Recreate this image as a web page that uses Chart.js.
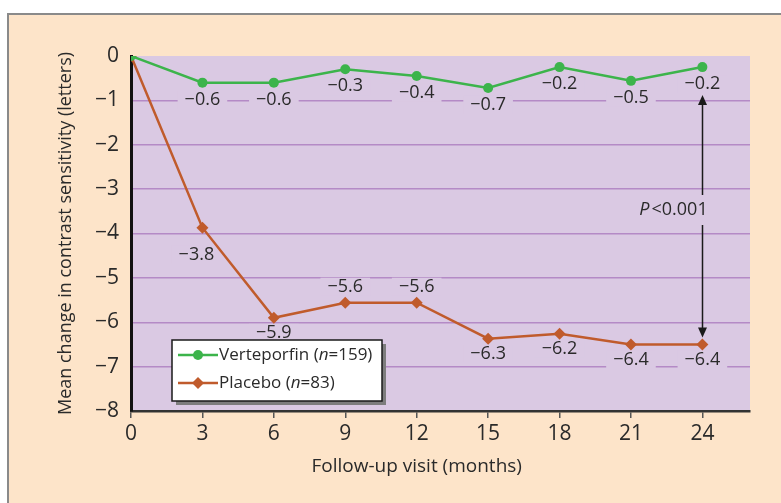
<!DOCTYPE html>
<html>
<head>
<meta charset="utf-8">
<script src="https://cdn.jsdelivr.net/npm/chart.js@4"></script>
<style>
  html, body { margin: 0; padding: 0; background: #ffffff; }
  #wrap { width: 781px; height: 503px; }
</style>
</head>
<body>
<div id="wrap"><canvas id="grafica" width="781" height="503"></canvas></div>
<script>
// Datos
const meses = [0, 3, 6, 9, 12, 15, 18, 21, 24];
const verteporfin = [0, -0.6, -0.6, -0.3, -0.45, -0.72, -0.25, -0.56, -0.25];
const placebo = [0, -3.87, -5.9, -5.56, -5.56, -6.37, -6.26, -6.5, -6.5];
const etiquetasVerte = ["", "−0.6", "−0.6", "−0.3", "−0.4", "−0.7", "−0.2", "−0.5", "−0.2"];
const etiquetasPlacebo = ["", "−3.8", "−5.9", "−5.6", "−5.6", "−6.3", "−6.2", "−6.4", "−6.4"];
const ticksY = [0, -1, -2, -3, -4, -5, -6, -7, -8];

const FUENTE = "'Open Sans', sans-serif";
const COLOR_VERDE = "#3cb44b";
const COLOR_CAFE = "#c05b2c";
const FONDO_PLOT = "#dac9e3";
const FONDO_PANEL = "#fde4c9";
const TEXTO = "#2a2a2a";

// Fondo del panel y del area del grafico
const fondo = {
    id: "fondo",
    beforeDraw(chart) {
        const { ctx, chartArea: a } = chart;
        ctx.save();
        ctx.fillStyle = "#ffffff";
        ctx.fillRect(0, 0, chart.width, chart.height);
        ctx.fillStyle = FONDO_PANEL;
        ctx.fillRect(7, 13, chart.width - 7, chart.height - 13);
        ctx.strokeStyle = "#8a8a8a";
        ctx.lineWidth = 2;
        ctx.beginPath();
        ctx.moveTo(8, chart.height);
        ctx.lineTo(8, 14);
        ctx.lineTo(chart.width, 14);
        ctx.stroke();
        ctx.fillStyle = FONDO_PLOT;
        ctx.fillRect(a.left, a.top, a.right - a.left, a.bottom - a.top);
        ctx.restore();
    }
};

// Etiquetas de valores con fondo que tapa la rejilla
const etiquetas = {
    id: "etiquetas",
    beforeDatasetsDraw(chart) {
        const { ctx } = chart;
        const x = chart.scales.x, y = chart.scales.y;
        ctx.save();
        ctx.font = "18px " + FUENTE;
        ctx.textAlign = "center";
        ctx.textBaseline = "middle";
        const pintar = (texto, px, py) => {
            const w = ctx.measureText(texto).width;
            ctx.fillStyle = FONDO_PLOT;
            ctx.fillRect(px - w / 2 - 7, py - 9, w + 14, 18);
            ctx.fillStyle = TEXTO;
            ctx.fillText(texto, px, py);
        };
        meses.forEach((m, i) => {
            if (!etiquetasVerte[i]) return;
            pintar(etiquetasVerte[i], x.getPixelForValue(m), y.getPixelForValue(verteporfin[i]) + 17);
        });
        meses.forEach((m, i) => {
            if (!etiquetasPlacebo[i]) return;
            let px = x.getPixelForValue(m);
            let py = y.getPixelForValue(placebo[i]);
            if (i === 3 || i === 4) py -= 16;
            else if (i === 1) { px -= 6; py += 27; }
            else py += 15;
            pintar(etiquetasPlacebo[i], px, py);
        });
        ctx.restore();
    },
    afterDatasetsDraw(chart) {
        // Flecha de significancia
        const { ctx } = chart;
        const x = chart.scales.x, y = chart.scales.y;
        const ultimo = meses.length - 1;
        const px = Math.round(x.getPixelForValue(meses[ultimo])) + 0.5;
        const arriba = y.getPixelForValue(verteporfin[ultimo]) + 28;
        const abajo = y.getPixelForValue(placebo[ultimo]) - 7;
        const textoY = 210;
        ctx.save();
        ctx.strokeStyle = "#1a1a1a";
        ctx.fillStyle = "#1a1a1a";
        ctx.lineWidth = 1.5;
        ctx.beginPath();
        ctx.moveTo(px, arriba + 8);
        ctx.lineTo(px, textoY - 15);
        ctx.moveTo(px, textoY + 15);
        ctx.lineTo(px, abajo - 8);
        ctx.stroke();
        ctx.beginPath();
        ctx.moveTo(px, arriba);
        ctx.lineTo(px - 4.5, arriba + 10);
        ctx.lineTo(px + 4.5, arriba + 10);
        ctx.closePath();
        ctx.fill();
        ctx.beginPath();
        ctx.moveTo(px, abajo);
        ctx.lineTo(px - 4.5, abajo - 10);
        ctx.lineTo(px + 4.5, abajo - 10);
        ctx.closePath();
        ctx.fill();
        ctx.textBaseline = "middle";
        ctx.textAlign = "left";
        ctx.fillStyle = TEXTO;
        ctx.font = "18px " + FUENTE;
        const resto = "<0.001";
        const wResto = ctx.measureText(resto).width;
        ctx.font = "italic 18px " + FUENTE;
        const wP = ctx.measureText("P").width;
        const inicio = px - 29 - (wP + 2 + wResto) / 2;
        ctx.fillText("P", inicio, textoY);
        ctx.font = "18px " + FUENTE;
        ctx.fillText(resto, inicio + wP + 2, textoY);
        ctx.restore();
    }
};

// Leyenda con n en cursiva y titulos de los ejes
const leyenda = {
    id: "leyenda",
    afterDraw(chart) {
        const { ctx, chartArea: a } = chart;
        const x = chart.scales.x;
        ctx.save();
        const bx = 172, by = 340, bw = 210, bh = 61;
        ctx.fillStyle = "#7d7d7d";
        ctx.fillRect(bx + 4, by + 4, bw, bh);
        ctx.fillStyle = "#ffffff";
        ctx.fillRect(bx, by, bw, bh);
        ctx.strokeStyle = "#1a1a1a";
        ctx.lineWidth = 1.5;
        ctx.strokeRect(bx, by, bw, bh);
        const filas = [
            { color: COLOR_VERDE, forma: "circulo", nombre: "Verteporfin (", n: "159)" },
            { color: COLOR_CAFE, forma: "rombo", nombre: "Placebo (", n: "83)" }
        ];
        filas.forEach((f, i) => {
            const cy = by + 15 + i * 28;
            ctx.strokeStyle = f.color;
            ctx.fillStyle = f.color;
            ctx.lineWidth = 2.5;
            ctx.beginPath();
            ctx.moveTo(bx + 6, cy);
            ctx.lineTo(bx + 46, cy);
            ctx.stroke();
            ctx.beginPath();
            if (f.forma === "circulo") {
                ctx.arc(bx + 26, cy, 5, 0, Math.PI * 2);
            } else {
                ctx.moveTo(bx + 26, cy - 6);
                ctx.lineTo(bx + 32, cy);
                ctx.lineTo(bx + 26, cy + 6);
                ctx.lineTo(bx + 20, cy);
                ctx.closePath();
            }
            ctx.fill();
            ctx.fillStyle = TEXTO;
            ctx.textBaseline = "middle";
            ctx.textAlign = "left";
            let tx = bx + 47;
            ctx.font = "17px " + FUENTE;
            ctx.fillText(f.nombre, tx, cy);
            tx += ctx.measureText(f.nombre).width;
            ctx.font = "italic 17px " + FUENTE;
            ctx.fillText("n", tx, cy);
            tx += ctx.measureText("n").width;
            ctx.font = "17px " + FUENTE;
            ctx.fillText("=" + f.n, tx, cy);
        });
        ctx.font = "19px " + FUENTE;
        ctx.textAlign = "center";
        ctx.textBaseline = "middle";
        ctx.fillStyle = TEXTO;
        const centro = (x.getPixelForValue(meses[0]) + x.getPixelForValue(meses[meses.length - 1])) / 2;
        ctx.fillText("Follow-up visit (months)", centro, 467);
        ctx.font = "18px " + FUENTE;
        ctx.translate(66, (a.top + a.bottom) / 2);
        ctx.rotate(-Math.PI / 2);
        ctx.fillText("Mean change in contrast sensitivity (letters)", 0, 0);
        ctx.restore();
    }
};

new Chart(document.getElementById("grafica").getContext("2d"), {
    type: "line",
    data: {
        labels: meses,
        datasets: [{
            label: "Verteporfin (n=159)",
            data: meses.map((m, i) => ({ x: m, y: verteporfin[i] })),
            borderColor: COLOR_VERDE,
            backgroundColor: COLOR_VERDE,
            borderWidth: 2.5,
            pointStyle: "circle",
            pointRadius: 5,
            pointBorderWidth: 0
        }, {
            label: "Placebo (n=83)",
            data: meses.map((m, i) => ({ x: m, y: placebo[i] })),
            borderColor: COLOR_CAFE,
            backgroundColor: COLOR_CAFE,
            borderWidth: 2.5,
            pointStyle: "rectRot",
            pointRadius: 6,
            pointBorderWidth: 0
        }]
    },
    options: {
        responsive: false,
        animation: false,
        layout: { padding: { top: 56, right: 31, left: 0, bottom: 0 } },
        plugins: {
            legend: { display: false },
            tooltip: { enabled: false }
        },
        scales: {
            x: {
                type: "linear",
                min: 0,
                max: 26,
                afterFit: (s) => { s.height = 92; },
                afterBuildTicks: (s) => { s.ticks = meses.map(v => ({ value: v })); },
                ticks: {
                    font: { family: FUENTE, size: 21 },
                    color: TEXTO,
                    padding: 3
                },
                grid: {
                    drawOnChartArea: false,
                    drawTicks: true,
                    tickLength: 7,
                    tickColor: "#555555",
                    lineWidth: 1.5
                },
                border: { color: "#333333", width: 2.5 }
            },
            y: {
                min: -8,
                max: 0,
                afterFit: (s) => { s.width = 131; },
                afterBuildTicks: (s) => { s.ticks = ticksY.map(v => ({ value: v })); },
                ticks: {
                    font: { family: FUENTE, size: 21 },
                    color: TEXTO,
                    padding: 12,
                    callback: (v) => String(v).replace("-", "−")
                },
                grid: {
                    drawTicks: false,
                    color: (c) => (c.tick && (c.tick.value === 0 || c.tick.value === -8)) ? "rgba(0,0,0,0)" : "#b48ac6",
                    lineWidth: 1.5
                },
                border: { color: "#111111", width: 3 }
            }
        }
    },
    plugins: [fondo, etiquetas, leyenda]
});
</script>
</body>
</html>
